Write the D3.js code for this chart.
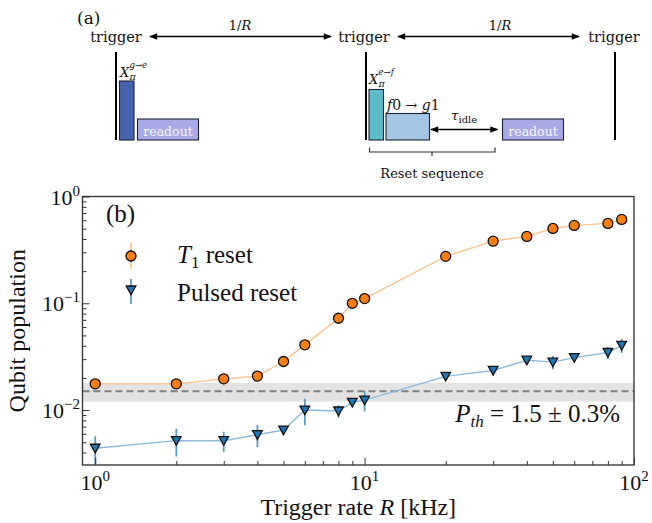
<!DOCTYPE html>
<html>
<head>
<meta charset="utf-8">
<script src="https://cdn.jsdelivr.net/npm/d3@7"></script>
<style>
  body { margin: 0; background: #fff; }
  svg { display: block; }
</style>
</head>
<body>
<svg id="fig" width="652" height="523"></svg>
<script>
// trigger rates in kHz
var rates = [1, 2, 3, 4, 5, 6, 8, 9, 10, 20, 30, 40, 50, 60, 80, 90];
// qubit population after T1 reset
var t1Reset = [0.0176, 0.0176, 0.0196, 0.0208, 0.0285, 0.0408, 0.0724, 0.100, 0.1106, 0.275, 0.382, 0.423, 0.502, 0.536, 0.560, 0.610];
var t1Err = [0.0008, 0.002, 0.003, 0.0025, 0.0025, 0.004, 0.008, 0.01, 0.005, 0.01, 0.01, 0.01, 0.01, 0.01, 0.01, 0.01];
// qubit population after pulsed reset
var pulsed = [0.00439, 0.00517, 0.00517, 0.00588, 0.0065, 0.0100, 0.0098, 0.0118, 0.0124, 0.0207, 0.0235, 0.0293, 0.0281, 0.0310, 0.0346, 0.0403];
var pulsedErr = [0.0013, 0.0015, 0.0011, 0.0014, 0.0004, 0.0028, 0.0013, 0.0006, 0.0027, 0.0008, 0.0008, 0.001, 0.004, 0.001, 0.0045, 0.006];
// thermal population
var pThermal = 0.015;
var pThermalErr = 0.003;

var xMajor = [1, 10, 100];
var xMajorExp = ["0", "1", "2"];
var xMinor = [2, 3, 4, 5, 6, 7, 8, 9, 20, 30, 40, 50, 60, 70, 80, 90];
var yMajor = [0.01, 0.1, 1];
var yMajorExp = ["\u22122", "\u22121", "0"];
var yMinor = [0.004, 0.005, 0.006, 0.007, 0.008, 0.009, 0.02, 0.03, 0.04, 0.05, 0.06, 0.07, 0.08, 0.09, 0.2, 0.3, 0.4, 0.5, 0.6, 0.7, 0.8, 0.9];

var orange = "#ff7f0e", orangeLight = "#ffc18d";
var blue = "#1f77b4", blueLight = "#8fbbda", blueErr = "#5b9bcb";
var serif = "'Liberation Serif', 'DejaVu Serif', serif";
var diagFont = "'DejaVu Serif', serif";

var svg = d3.select("#fig");

// ---------------- (a) pulse sequence diagram ----------------
var defs = svg.append("defs");
defs.append("marker").attr("id", "head").attr("viewBox", "0 -5 10 10")
  .attr("refX", 9).attr("refY", 0).attr("markerWidth", 9).attr("markerHeight", 8)
  .attr("markerUnits", "userSpaceOnUse").attr("orient", "auto-start-reverse")
  .append("path").attr("d", "M0,-4L10,0L0,4Z").attr("fill", "#000");

var a = svg.append("g").attr("font-family", diagFont).attr("fill", "#111");

a.append("text").attr("x", 77).attr("y", 24).attr("font-size", 17).text("(a)");

[[116, "trigger"], [364, "trigger"], [614, "trigger"]].forEach(function(d) {
  a.append("text").attr("x", d[0]).attr("y", 42).attr("font-size", 14.5)
    .attr("text-anchor", "middle").text(d[1]);
});

[[150, 331, 240], [398, 579, 500]].forEach(function(d) {
  a.append("line").attr("x1", d[0]).attr("x2", d[1]).attr("y1", 36.5).attr("y2", 36.5)
    .attr("stroke", "#000").attr("stroke-width", 1.6)
    .attr("marker-start", "url(#head)").attr("marker-end", "url(#head)");
  var t = a.append("text").attr("x", d[2]).attr("y", 30).attr("font-size", 13).attr("text-anchor", "middle");
  t.append("tspan").text("1/");
  t.append("tspan").attr("font-style", "italic").text("R");
});

[116, 366, 615].forEach(function(xv) {
  a.append("line").attr("x1", xv).attr("x2", xv).attr("y1", 52).attr("y2", 140)
    .attr("stroke", "#000").attr("stroke-width", 2);
});

// pulses
var boxes = [
  [119.5, 81, 14.5, 59, "#4863ad"],
  [137.5, 119, 61, 21, "#a9a9e6"],
  [369, 89.5, 14.5, 50.5, "#5cbccb"],
  [386, 113.5, 43.5, 26.5, "#a4c5e3"],
  [502.5, 119, 61, 21, "#a9a9e6"]
];
boxes.forEach(function(b) {
  a.append("rect").attr("x", b[0]).attr("y", b[1]).attr("width", b[2]).attr("height", b[3])
    .attr("fill", b[4]).attr("stroke", "#1c2333").attr("stroke-width", 1.1);
});
[168, 533].forEach(function(xv) {
  a.append("text").attr("x", xv).attr("y", 135.5).attr("font-size", 12.5)
    .attr("text-anchor", "middle").attr("fill", "#f4f4ff").text("readout");
});

function xpi(x0, yb, sup) {
  a.append("text").attr("x", x0).attr("y", yb).attr("font-size", 13).attr("font-style", "italic").text("X");
  a.append("text").attr("x", x0 + 9.5).attr("y", yb - 9).attr("font-size", 8.5).attr("font-style", "italic").text(sup);
  a.append("text").attr("x", x0 + 9.5).attr("y", yb + 2.5).attr("font-size", 9.5).attr("font-style", "italic").text("\u03c0");
}
xpi(120, 77, "g\u2192e");
xpi(369, 84, "e\u2192f");

var f0 = a.append("text").attr("x", 387).attr("y", 109.5).attr("font-size", 14);
f0.append("tspan").attr("font-style", "italic").text("f");
f0.append("tspan").text("0 \u2192 ");
f0.append("tspan").attr("font-style", "italic").text("g");
f0.append("tspan").text("1");

var tau = a.append("text").attr("x", 451).attr("y", 120).attr("font-size", 13.5);
tau.append("tspan").attr("font-style", "italic").text("\u03c4");
tau.append("tspan").attr("dy", 3).attr("font-size", 10).text("idle");

a.append("line").attr("x1", 431).attr("x2", 497.5).attr("y1", 129.5).attr("y2", 129.5)
  .attr("stroke", "#000").attr("stroke-width", 1.3)
  .attr("marker-start", "url(#head)").attr("marker-end", "url(#head)");

a.append("path").attr("d", "M369.5,147.5V152H495V147.5M432,152V156")
  .attr("fill", "none").attr("stroke", "#333").attr("stroke-width", 1.2);
a.append("text").attr("x", 432).attr("y", 178).attr("font-size", 13).attr("text-anchor", "middle").text("Reset sequence");

// ---------------- (b) populations vs trigger rate ----------------
var pLeft = 82.5, pRight = 634, pTop = 196.5, pBottom = 465;
var x = d3.scaleLog().domain([0.897, 100]).range([pLeft, pRight]);
var y = d3.scaleLog().domain([0.00306, 1]).range([pBottom, pTop]);

var b = svg.append("g").attr("font-family", serif).attr("fill", "#111");

defs.append("clipPath").attr("id", "plotclip").append("rect")
  .attr("x", pLeft).attr("y", pTop).attr("width", pRight - pLeft).attr("height", pBottom - pTop);
var plot = b.append("g").attr("clip-path", "url(#plotclip)");

// thermal band and dashed line
plot.append("rect").attr("x", pLeft).attr("width", pRight - pLeft)
  .attr("y", y(pThermal + pThermalErr)).attr("height", y(pThermal - pThermalErr) - y(pThermal + pThermalErr))
  .attr("fill", "#e3e3e3");
plot.append("line").attr("x1", pLeft).attr("x2", pRight).attr("y1", y(pThermal)).attr("y2", y(pThermal))
  .attr("stroke", "#808080").attr("stroke-width", 2).attr("stroke-dasharray", "7,4");

var series = [
  { vals: t1Reset, errs: t1Err, line: orangeLight, err: orangeLight, fill: orange, shape: "circle" },
  { vals: pulsed, errs: pulsedErr, line: blueLight, err: blueErr, fill: blue, shape: "tri" }
];

var tri = "M-4.8,-4L4.8,-4L0,4.6Z";

series.forEach(function(s) {
  var pts = rates.map(function(r, i) { return { r: r, v: s.vals[i], e: s.errs[i] }; });
  plot.append("path").datum(pts)
    .attr("d", d3.line().x(function(d) { return x(d.r); }).y(function(d) { return y(d.v); }))
    .attr("fill", "none").attr("stroke", s.line).attr("stroke-width", 1.4);
  plot.selectAll(null).data(pts).enter().append("line")
    .attr("x1", function(d) { return x(d.r); }).attr("x2", function(d) { return x(d.r); })
    .attr("y1", function(d) { return y(d.v + d.e); }).attr("y2", function(d) { return y(Math.max(d.v - d.e, 1e-4)); })
    .attr("stroke", s.err).attr("stroke-width", 1.8);
  if (s.shape === "circle") {
    plot.selectAll(null).data(pts).enter().append("circle")
      .attr("cx", function(d) { return x(d.r); }).attr("cy", function(d) { return y(d.v); })
      .attr("r", 5).attr("fill", s.fill).attr("stroke", "#111").attr("stroke-width", 1.3);
  } else {
    plot.selectAll(null).data(pts).enter().append("path")
      .attr("transform", function(d) { return "translate(" + x(d.r) + "," + y(d.v) + ")"; })
      .attr("d", tri).attr("fill", s.fill).attr("stroke", "#111").attr("stroke-width", 1.3);
  }
});

// ticks (pointing inward)
function tickGroup(axis, tr) {
  var g = b.append("g").attr("transform", tr).call(axis);
  g.select(".domain").remove();
  g.selectAll("line").attr("stroke", "#333").attr("stroke-width", 1);
  g.selectAll("text").remove();
  return g;
}
tickGroup(d3.axisBottom(x).tickValues(xMajor).tickSizeInner(-7).tickSizeOuter(0), "translate(0," + pBottom + ")");
tickGroup(d3.axisBottom(x).tickValues(xMinor).tickSizeInner(-4).tickSizeOuter(0), "translate(0," + pBottom + ")");
tickGroup(d3.axisLeft(y).tickValues(yMajor).tickSizeInner(-7).tickSizeOuter(0), "translate(" + pLeft + ",0)");
tickGroup(d3.axisLeft(y).tickValues(yMinor).tickSizeInner(-4).tickSizeOuter(0), "translate(" + pLeft + ",0)");

b.append("rect").attr("x", pLeft).attr("y", pTop).attr("width", pRight - pLeft).attr("height", pBottom - pTop)
  .attr("fill", "none").attr("stroke", "#3a3a3a").attr("stroke-width", 1.4);

// tick labels 10^n
function powLabel(xp, yp, exp, anchor) {
  var t = b.append("text").attr("x", xp).attr("y", yp).attr("font-size", 22).attr("text-anchor", anchor);
  t.append("tspan").text("10");
  t.append("tspan").attr("dy", -9).attr("font-size", 15).text(exp);
}
xMajor.forEach(function(v, i) { powLabel(x(v), 490, xMajorExp[i], "middle"); });
yMajor.forEach(function(v, i) { powLabel(80, y(v) + 8, yMajorExp[i], "end"); });

// axis titles
b.append("text").attr("transform", "translate(25," + ((pTop + pBottom) / 2) + ") rotate(-90)")
  .attr("font-size", 24).attr("text-anchor", "middle").text("Qubit population");
var xl = b.append("text").attr("x", (pLeft + pRight) / 2).attr("y", 515).attr("font-size", 24).attr("text-anchor", "middle");
xl.append("tspan").text("Trigger rate ");
xl.append("tspan").attr("font-style", "italic").text("R");
xl.append("tspan").text(" [kHz]");

// panel label and legend
b.append("text").attr("x", 106).attr("y", 222).attr("font-size", 25).text("(b)");

b.append("line").attr("x1", 131).attr("x2", 131).attr("y1", 243).attr("y2", 268).attr("stroke", orangeLight).attr("stroke-width", 1.8);
b.append("circle").attr("cx", 131).attr("cy", 256).attr("r", 5).attr("fill", orange).attr("stroke", "#111").attr("stroke-width", 1.3);
var l1 = b.append("text").attr("x", 177).attr("y", 263).attr("font-size", 25);
l1.append("tspan").attr("font-style", "italic").text("T");
l1.append("tspan").attr("dy", 5).attr("font-size", 17).text("1");
l1.append("tspan").attr("dy", -5).text(" reset");

b.append("line").attr("x1", 131).attr("x2", 131).attr("y1", 279).attr("y2", 304).attr("stroke", blueErr).attr("stroke-width", 1.8);
b.append("path").attr("transform", "translate(131,290)").attr("d", tri).attr("fill", blue).attr("stroke", "#111").attr("stroke-width", 1.3);
b.append("text").attr("x", 177).attr("y", 301).attr("font-size", 25).text("Pulsed reset");

var pt = b.append("text").attr("x", 620).attr("y", 422).attr("font-size", 25).attr("text-anchor", "end");
pt.append("tspan").attr("font-style", "italic").text("P");
pt.append("tspan").attr("dy", 5).attr("font-size", 17).attr("font-style", "italic").text("th");
pt.append("tspan").attr("dy", -5).text(" = 1.5 \u00b1 0.3%");
</script>
</body>
</html>
